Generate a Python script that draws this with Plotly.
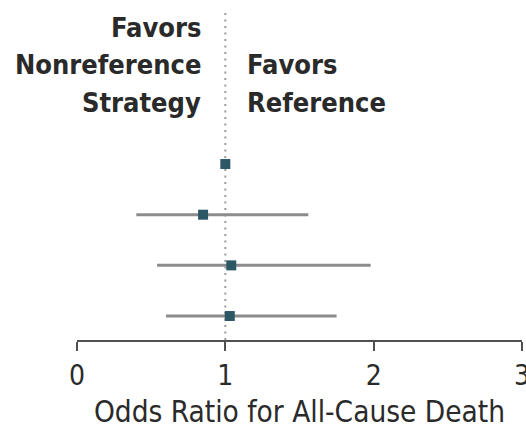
import plotly.graph_objects as go

# Forest plot rows (top to bottom) and estimates
row_pos = [4, 3, 2, 1]
odds_ratio = [1.00, 0.85, 1.04, 1.03]
ci_low = [1.00, 0.40, 0.54, 0.60]
ci_high = [1.00, 1.56, 1.98, 1.75]

x_ticks = [0, 1, 2, 3]
x_title = "Odds Ratio for All-Cause Death"
left_lines = ["Favors", "Nonreference", "Strategy"]
right_lines = ["Favors", "Reference"]

TEXT = "#2a2a2a"
FONT = "DejaVu Sans Condensed"

err_plus = [h - o for h, o in zip(ci_high, odds_ratio)]
err_minus = [o - l for o, l in zip(odds_ratio, ci_low)]

fig = go.Figure()
fig.add_trace(go.Scatter(
    x=odds_ratio, y=row_pos, mode="markers",
    marker=dict(symbol="square", size=10, color="#2c5866"),
    error_x=dict(type="data", array=err_plus, arrayminus=err_minus,
                 thickness=3, width=0, color="#8c8c8c"),
    showlegend=False, hoverinfo="skip",
))

# Line of no effect
fig.add_shape(type="line", xref="x", yref="paper", x0=1, x1=1, y0=0, y1=1,
              line=dict(color="#9a9a9a", width=2, dash="2px,4.5px"), layer="below")

# Header labels on each side of the reference line, one annotation per text line
line_y = [0.948, 0.834, 0.721]
label_font = dict(family=FONT, size=27, color=TEXT, weight="bold")
for txt, yy in zip(left_lines, line_y):
    fig.add_annotation(text=txt, xref="x", yref="paper", x=1, y=yy,
                       xanchor="right", yanchor="middle", xshift=-22,
                       showarrow=False, font=label_font)
for txt, yy in zip(right_lines, line_y[1:]):
    fig.add_annotation(text=txt, xref="x", yref="paper", x=1, y=yy,
                       xanchor="left", yanchor="middle", xshift=20,
                       showarrow=False, font=label_font)

fig.update_xaxes(range=[0, 3], tickvals=x_ticks, ticktext=[str(t) for t in x_ticks],
                 showgrid=False, zeroline=False, showline=True, linecolor="#505050",
                 linewidth=2, ticks="outside", ticklen=9, tickwidth=2, tickcolor="#505050",
                 ticklabeloverflow="allow", automargin=False,
                 tickfont=dict(family=FONT, size=28, color=TEXT),
                 title=dict(text=x_title, font=dict(family=FONT, size=29.5, color=TEXT),
                            standoff=12))
fig.update_yaxes(range=[0.527, 7.04], visible=False)

fig.update_layout(width=526, height=429, margin=dict(l=77, r=4, t=10, b=89, autoexpand=False),
                  plot_bgcolor="white", paper_bgcolor="white")

fig.write_html("out.html")
